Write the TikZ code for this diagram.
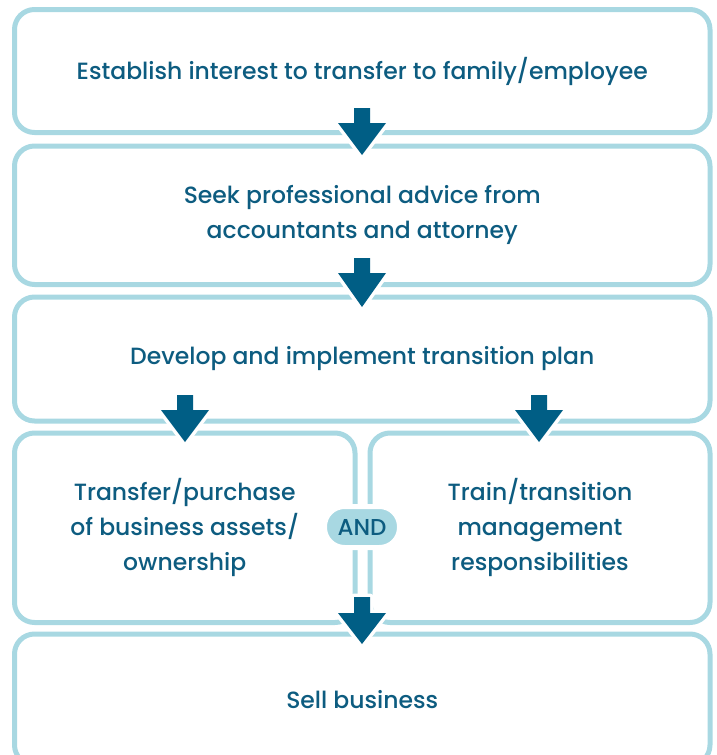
\documentclass[tikz,border=0pt]{standalone}
\usepackage{fontspec}
\IfFontExistsTF{Poppins Medium}{\setmainfont{Poppins Medium}}{\setmainfont{Poppins}[FakeBold=1.5]}
\definecolor{linec}{HTML}{A8D8E2}
\definecolor{textc}{HTML}{0D5C80}
\definecolor{arrowc}{HTML}{005E85}
\newcommand\flowarrow[4]{%
  \path[fill=arrowc, preaction={draw=white, line width=7pt, line join=round}]
    (#1-8,#2) -- (#1+8,#2) -- (#1+8,#3) -- (#1+24,#3) -- (#1,#4) -- (#1-24,#3) -- (#1-8,#3) -- cycle;}
\begin{document}
\begin{tikzpicture}[x=1pt,y=-1pt,
  box/.style={draw=linec, line width=5pt, rounded corners=20pt, align=center,
    text=textc, font=\fontsize{23.5}{35}\selectfont, inner sep=0pt},
  pill/.style={fill=linec, draw=white, line width=5pt, rounded corners=20pt,
    minimum width=75pt, minimum height=41pt, text=textc, inner sep=0pt,
    font=\fontsize{23}{23}\selectfont}]
\useasboundingbox (0,0) rectangle (717,755);
\begin{scope}
\clip (0,0) rectangle (717,755);
\node[box, minimum width=695.5pt, minimum height=123pt] (b1) at (362.25,71)
  {Establish interest to transfer to family/employee};
\node[box, minimum width=695.5pt, minimum height=138.5pt] (b2) at (362.25,215.25)
  {Seek professional advice from\\accountants and attorney};
\node[box, minimum width=695.5pt, minimum height=124pt] (b3) at (362.25,359)
  {Develop and implement transition plan};
\node[box, minimum width=340.5pt, minimum height=189.5pt] (b4l) at (184.75,527.75)
  {Transfer/purchase\\of business assets/\\ownership};
\node[box, minimum width=340pt, minimum height=189.5pt] (b4r) at (540,527.75)
  {Train/transition\\management\\responsibilities};
\node[box, minimum width=695.5pt, minimum height=131pt] (b5) at (362.25,699.5)
  {Sell business};
\node[pill] (and) at (362,527) {AND};
\flowarrow{362}{108}{123}{155}
\flowarrow{362}{258}{273}{307}
\flowarrow{185}{395}{410}{442}
\flowarrow{539}{395}{410}{442}
\flowarrow{362}{597}{613}{644}
\end{scope}
\end{tikzpicture}
\end{document}
